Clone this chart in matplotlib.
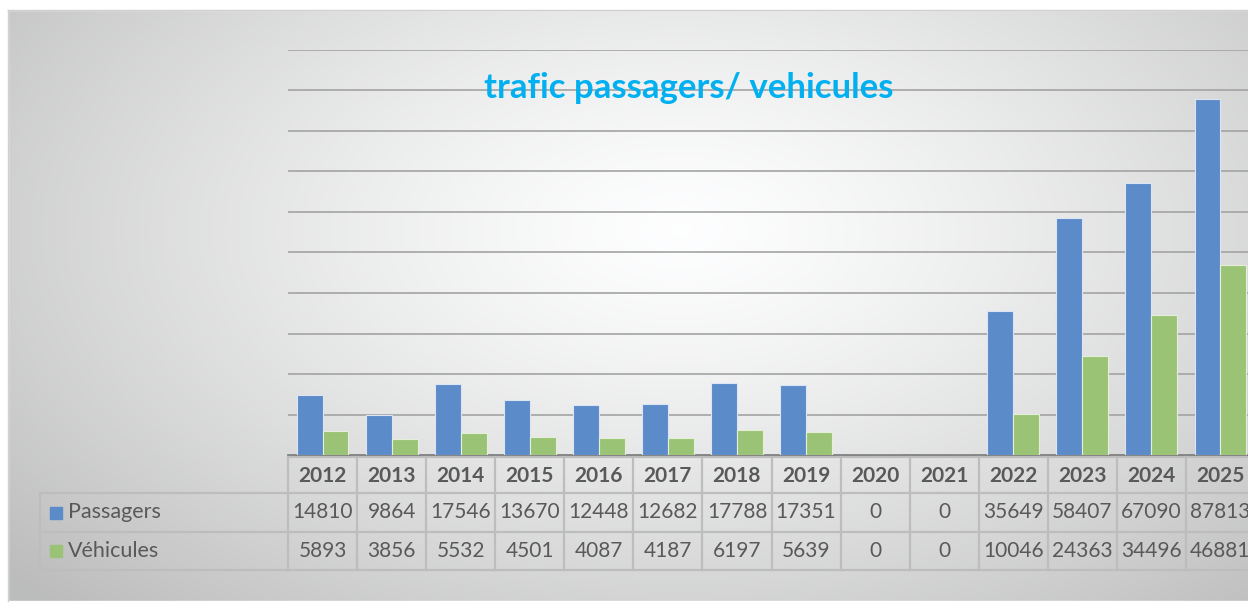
#!/bin/python

import matplotlib.pyplot as plt
import numpy as np
from matplotlib.transforms import blended_transform_factory
from matplotlib.lines import Line2D
from matplotlib.patches import Rectangle

years = ['2012', '2013', '2014', '2015', '2016', '2017', '2018',
         '2019', '2020', '2021', '2022', '2023', '2024', '2025']
passagers = [14810, 9864, 17546, 13670, 12448, 12682, 17788,
             17351, 0, 0, 35649, 58407, 67090, 87813]
vehicules = [5893, 3856, 5532, 4501, 4087, 4187, 6197,
             5639, 0, 0, 10046, 24363, 34496, 46881]
series_names = ['Passagers', 'Véhicules']

W, H = 1248, 603
blue = '#5b8bc8'
green = '#9bc376'
txt = '#595959'
cell_line = '#bdbdbd'

plt.rcParams['font.family'] = ['Lato', 'DejaVu Sans']

fig = plt.figure(figsize=(W / 100, H / 100), dpi=100)

# radial gradient background (chart area style)
bg = fig.add_axes([0, 0, 1, 1])
yy, xx = np.mgrid[0:H, 0:W]
r = np.sqrt(((xx - 680) / 900.0) ** 2 + ((yy - 230) / 520.0) ** 2)
shade = 1.0 - 0.26 * np.clip(r, 0, 1) ** 1.3
img = np.dstack([shade * 0.995, shade * 0.997, shade])
bg.imshow(img, extent=[0, W, H, 0], aspect='auto')
bg.add_patch(Rectangle((0, 0), W, 10, color='white', zorder=3))
bg.add_patch(Rectangle((0, 0), 8, H, color='white', zorder=3))
bg.add_patch(Rectangle((0, 601), W, 3, color='white', zorder=3))
bg.plot([8, 8], [10, 601], color='#d0d0d0', lw=1, zorder=4)
bg.plot([8, W], [10, 10], color='#d0d0d0', lw=1, zorder=4)
bg.set_xlim(0, W)
bg.set_ylim(H, 0)
bg.axis('off')

# bar plot area
left, right, base, top = 288, 1255, 455, 50
ax = fig.add_axes([left / W, (H - base) / H, (right - left) / W, (base - top) / H])
ax.patch.set_alpha(0)
x = np.arange(len(years))
bw = 0.375
ax.bar(x - bw / 2, passagers, bw, color=blue, edgecolor='#dbe5f3', lw=0.8, zorder=3)
ax.bar(x + bw / 2, vehicules, bw, color=green, edgecolor='#e4efd9', lw=0.8, zorder=3)
ax.set_xlim(-0.5, len(years) - 0.5)
ax.set_ylim(0, 100000)
ax.set_yticks(np.arange(10000, 100001, 10000))
ax.yaxis.grid(True, color='#a3a3a3', lw=1.2, zorder=0)
ax.tick_params(left=False, bottom=False, labelleft=False, labelbottom=False)
for s in ['top', 'right', 'left']:
    ax.spines[s].set_visible(False)
ax.spines['bottom'].set_color('#7f7f7f')
ax.spines['bottom'].set_linewidth(2)

fig.text(689 / W, 1 - 88 / H, 'trafic passagers/ vehicules', ha='center', va='center',
         fontsize=25, fontweight='bold', color='#00b0f0')

# data table below the plot
tr = blended_transform_factory(ax.transData, fig.transFigure)
def fy(py):
    return 1 - py / H

row_edges = [457, 493, 532, 570]
for i, py in enumerate(row_edges):
    x0 = 288 if i == 0 else 40
    fig.add_artist(Line2D([x0 / W, 1.01], [fy(py), fy(py)], color=cell_line, lw=1.6,
                          transform=fig.transFigure))
for k in range(len(years) + 1):
    fig.add_artist(Line2D([k - 0.5, k - 0.5], [fy(457), fy(570)], color=cell_line, lw=1.6,
                          transform=tr))
fig.add_artist(Line2D([40 / W, 40 / W], [fy(493), fy(570)], color=cell_line, lw=1.6,
                      transform=fig.transFigure))

row_mid = [(457 + 493) / 2 + 1, (493 + 532) / 2, (532 + 570) / 2]
for k, yr in enumerate(years):
    fig.text(k, fy(row_mid[0]), yr, transform=tr, ha='center', va='center',
             fontsize=15, fontweight='bold', color=txt)
    fig.text(k, fy(row_mid[1]), str(passagers[k]), transform=tr, ha='center', va='center',
             fontsize=15, color=txt)
    fig.text(k, fy(row_mid[2]), str(vehicules[k]), transform=tr, ha='center', va='center',
             fontsize=15, color=txt)

for j, (name, c) in enumerate(zip(series_names, [blue, green])):
    ym = row_mid[j + 1]
    fig.add_artist(Rectangle((50 / W, fy(ym + 6)), 12 / W, 12 / H, color=c,
                             transform=fig.transFigure))
    fig.text(68 / W, fy(ym), name, ha='left', va='center', fontsize=15.5, color=txt)

fig.savefig('out.png', dpi=100)
